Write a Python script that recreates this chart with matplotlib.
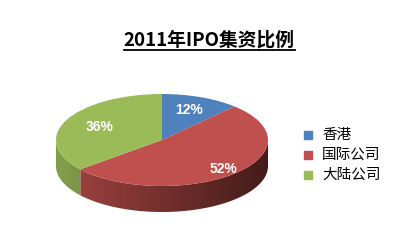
import numpy as np
import matplotlib
matplotlib.use('Agg')
import matplotlib.pyplot as plt
from matplotlib.patches import Wedge, Polygon
from matplotlib.transforms import Affine2D
from matplotlib.lines import Line2D

plt.rcParams['font.family'] = ['Noto Sans CJK SC', 'DejaVu Sans']

# data
title = '2011年IPO集资比例'
names = ['香港', '国际公司', '大陆公司']
shares = [12, 52, 36]
pct_labels = ['12%', '52%', '36%']
colors = ['#4F81BD', '#C0504D', '#9BBB59']

W, H = 407, 248
fig = plt.figure(figsize=(W / 100, H / 100), dpi=100)
ax = fig.add_axes([0, 0, 1, 1])
ax.set_xlim(0, W)
ax.set_ylim(0, H)
ax.axis('off')

# ellipse geometry (pixels, y measured from bottom)
cx, cy = 162, H - 140
rx, ry = 106, 46
depth = 26
ell = Affine2D().scale(rx, ry).translate(cx, cy) + ax.transData

# angles: start at 12 o'clock, go clockwise
fr = np.array(shares, dtype=float) / sum(shares)
ends = 90 - 360 * np.cumsum(fr)
starts = np.concatenate([[90], ends[:-1]])


def rgb(c):
    return np.array(matplotlib.colors.to_rgb(c))


# side walls (only the front half is visible)
for s, e, c in zip(starts, ends, colors):
    lo, hi = e % 360, s % 360
    if hi <= lo:
        hi += 360
    # intersect [lo, hi] with front half [180, 360]
    a0, a1 = max(lo, 180), min(hi, 360)
    if a1 <= a0:
        a0, a1 = max(lo - 360, 180), min(hi - 360, 360)
        if a1 <= a0:
            continue
    t = np.radians(np.linspace(a0, a1, 80))
    xs = cx + rx * np.cos(t)
    ys = cy + ry * np.sin(t)
    pts = np.vstack([np.column_stack([xs, ys]),
                     np.column_stack([xs[::-1], ys[::-1] - depth])])
    poly = Polygon(pts, closed=True, facecolor='none', edgecolor='none')
    ax.add_patch(poly)
    gx = np.linspace(0, 1, 200)
    f = 0.85 - 0.5 * gx
    img = np.clip(rgb(c)[None, None, :] * f[None, :, None], 0, 1)
    img = np.repeat(img, 2, axis=0)
    im = ax.imshow(img, extent=[cx - rx, cx + rx, cy - ry - depth, cy + 5],
                   aspect='auto', interpolation='bilinear', zorder=1)
    im.set_clip_path(poly)

# top face
for s, e, c in zip(starts, ends, colors):
    w = Wedge((0, 0), 1, e, s, facecolor=c, edgecolor='none',
              transform=ell, zorder=2)
    ax.add_patch(w)

# percentage labels
label_r = [0.7, 0.85, 0.65]
for s, e, lab, r in zip(starts, ends, pct_labels, label_r):
    m = np.radians((s + e) / 2)
    ax.text(cx + r * rx * np.cos(m), cy + r * ry * np.sin(m), lab,
            color='white', fontsize=10, fontweight='bold',
            family='Liberation Sans', ha='center', va='center', zorder=3)

# legend
for i, (n, c) in enumerate(zip(names, colors)):
    yy = H - 135 - 20 * i
    ax.scatter([308], [yy], marker='s', s=30, color=c, zorder=3)
    ax.text(322, yy, n, fontsize=10.5, color='black', ha='left', va='center')

# title with underline
tt = fig.text(209 / W, 1 - 40 / H, title, fontsize=13.5, fontweight='bold',
              ha='center', va='center')
fig.canvas.draw()
bb = tt.get_window_extent(renderer=fig.canvas.get_renderer())
uy = (H - 50) / H
fig.add_artist(Line2D([bb.x0 / W, bb.x1 / W], [uy, uy], color='black',
                      linewidth=1.3, transform=fig.transFigure))

fig.savefig('out.png', dpi=100)
